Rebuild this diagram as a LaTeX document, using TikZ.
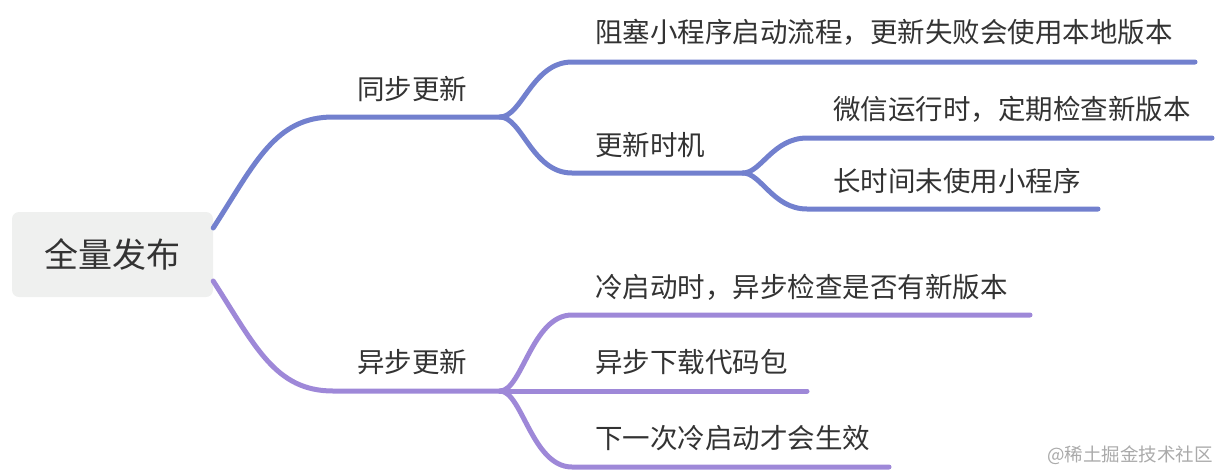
\documentclass[tikz,border=0pt]{standalone}
\usepackage{fontspec}
\newfontfamily\cjk{Noto Sans CJK SC}
\usetikzlibrary{calc}
\definecolor{bl}{RGB}{114,128,206}
\definecolor{pu}{RGB}{158,136,216}
\definecolor{txt}{RGB}{51,51,51}
\definecolor{rootfill}{RGB}{239,240,239}
\definecolor{wm}{RGB}{170,170,170}
\begin{document}
\begin{tikzpicture}[x=1pt,y=-1pt,
  br/.style={line width=5pt,line cap=round,line join=round},
  lbl/.style={anchor=west,inner sep=0pt,text=txt,font=\cjk\fontsize{27.5}{30}\selectfont,text height=22.5pt,text depth=2.2pt},
]
\useasboundingbox (0,0) rectangle (1220,472);
% root
\node[fill=rootfill,rounded corners=7pt,minimum width=201pt,minimum height=85pt,inner sep=0pt,
      text=txt,font=\cjk\fontsize{34}{36}\selectfont,text height=27.9pt,text depth=2.7pt] (root) at (112.5,254.5) {全量发布};
% coordinates
\coordinate (rs1) at ($(root.east)+(0,-26.5)$);
\coordinate (rs2) at ($(root.east)+(0,26.5)$);
\coordinate (a1) at (333,117);
\coordinate (j1) at (500,117);
\coordinate (b1) at (572,62);
\coordinate (e1) at (1195,62);
\coordinate (b2) at (572,173);
\coordinate (j2) at (743,173);
\coordinate (c1) at (807,138);
\coordinate (e3) at (1212,138);
\coordinate (c2) at (807,209);
\coordinate (e4) at (1098,209);
\coordinate (a2) at (333,391);
\coordinate (j3) at (500,391);
\coordinate (d1) at (572,315);
\coordinate (e5) at (1030,315);
\coordinate (e6) at (807,391);
\coordinate (d3) at (572,467);
\coordinate (e7) at (889,467);
% upper branch
\draw[br,bl] (rs1) .. controls +(42,-65) and +(-58,0) .. (a1) -- (j1);
\draw[br,bl] (j1) .. controls +(22,0) and +(-40,0) .. (b1) -- (e1);
\draw[br,bl] (j1) .. controls +(22,0) and +(-40,0) .. (b2) -- (j2);
\draw[br,bl] (j2) .. controls +(18,0) and +(-34,0) .. (c1) -- (e3);
\draw[br,bl] (j2) .. controls +(18,0) and +(-34,0) .. (c2) -- (e4);
% lower branch
\draw[br,pu] (rs2) .. controls +(42,65) and +(-58,0) .. (a2) -- (j3);
\draw[br,pu] (j3) .. controls +(22,0) and +(-40,0) .. (d1) -- (e5);
\draw[br,pu] (j3) -- (e6);
\draw[br,pu] (j3) .. controls +(22,0) and +(-40,0) .. (d3) -- (e7);
% labels
\node[lbl] (l1) at (357,89) {同步更新};
\node[lbl] (l2) at (357,362) {异步更新};
\node[lbl] (l11) at (595,32) {阻塞小程序启动流程，更新失败会使用本地版本};
\node[lbl] (l12) at (595,145) {更新时机};
\node[lbl] (l121) at (833,109) {微信运行时，定期检查新版本};
\node[lbl] (l122) at (833,181) {长时间未使用小程序};
\node[lbl] (l21) at (595,287) {冷启动时，异步检查是否有新版本};
\node[lbl] (l22) at (595,362) {异步下载代码包};
\node[lbl] (l23) at (595,438) {下一次冷启动才会生效};
% watermark
\node[anchor=east,inner sep=0pt,text=wm,font=\cjk\fontsize{18.5}{20}\selectfont] (wmk) at (1213,455) {@稀土掘金技术社区};
\end{tikzpicture}
\end{document}
